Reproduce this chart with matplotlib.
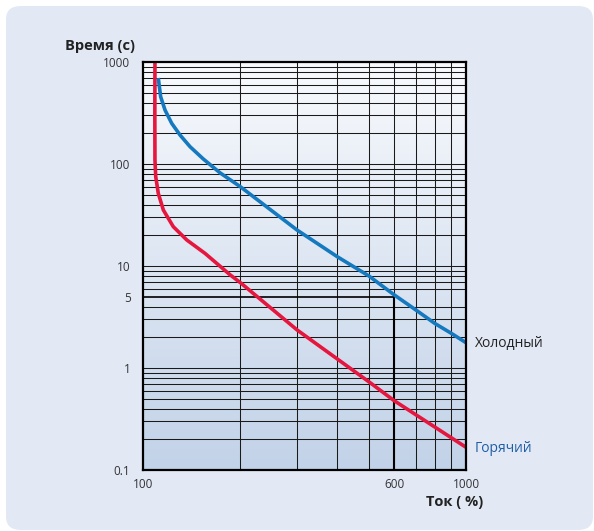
import matplotlib.pyplot as plt
import numpy as np
from matplotlib.patches import FancyBboxPatch
from matplotlib.colors import LinearSegmentedColormap

plt.rcParams['font.family'] = ['Open Sans', 'DejaVu Sans']

# Холодный (синяя кривая)
tok_holod = [111.5, 113.4, 117.0, 122.7, 130.2, 139.8, 153.7, 173.1, 200,
             300, 400, 500, 600, 700, 800, 900, 1000]
vremya_holod = [697, 457, 338, 250.6, 192.4, 147.9, 112, 82, 60,
                22.5, 12.3, 8.0, 5.2, 3.7, 2.74, 2.19, 1.77]

# Горячий (красная кривая)
tok_gor = [108.9, 108.8, 108.9, 109.5, 111.5, 115.6, 124.1, 136.6, 155.6, 186, 201,
           300, 500, 600, 1000]
vremya_gor = [1000, 300, 109.4, 75.1, 51.6, 35.4, 24.3, 18.0, 13.3, 8.2, 6.8,
              2.36, 0.734, 0.477, 0.167]

y_ticks = [0.1, 1, 5, 10, 100, 1000]
y_labels = ['0.1', '1', '5', '10', '100', '1000']
x_ticks = [100, 600, 1000]
x_labels = ['100', '600', '1000']

fig = plt.figure(figsize=(5.94, 5.31), dpi=100)
fig.patch.set_facecolor('white')

# фон-подложка со скруглёнными углами
panel = FancyBboxPatch((6 / 594, 1 - 530 / 531), 587 / 594, 524 / 531,
                       boxstyle='round,pad=0,rounding_size=0.025',
                       transform=fig.transFigure, facecolor='#e2e9f5',
                       edgecolor='none', zorder=-10)
fig.patches.append(panel)

ax = fig.add_axes([143 / 594, 1 - 470 / 531, 323 / 594, 408 / 531])
ax.set_zorder(1)
ax.set_xscale('log')
ax.set_yscale('log')

# градиент в области графика
grad = np.linspace(0, 1, 256).reshape(-1, 1)
cm = LinearSegmentedColormap.from_list('g', ['#c2d2e8', '#f8fafd'])
ax.imshow(grad, cmap=cm, aspect='auto', extent=[0, 1, 0, 1],
          transform=ax.transAxes, origin='lower', zorder=0)
ax.set_xlim(100, 1000)
ax.set_ylim(0.1, 1000)

# сетка
for d in range(-1, 3):
    for k in range(1, 10):
        v = k * 10 ** d
        if v <= 0.1 or v == 5:
            continue
        ax.axhline(v, color='#1a1a1a', lw=0.75, zorder=1)
for v in range(200, 1000, 100):
    ax.axvline(v, color='#1a1a1a', lw=0.75, zorder=1)

# опорные линии 600 % / 5 с
ax.plot([100, 600], [5, 5], color='black', lw=1.2, zorder=2)
ax.plot([600, 600], [0.1, 5], color='black', lw=1.5, zorder=2)

ax.plot(tok_holod, vremya_holod, color='#1479bf', lw=2.6, zorder=3,
        solid_capstyle='butt', solid_joinstyle='round')
ax.plot(tok_gor, vremya_gor, color='#e5173f', lw=2.6, zorder=3,
        solid_capstyle='butt', solid_joinstyle='round')

for s in ax.spines.values():
    s.set_linewidth(1.6)
    s.set_color('black')
    s.set_zorder(4)

ax.set_yticks(y_ticks)
ax.set_yticklabels(y_labels)
ax.set_xticks(x_ticks)
ax.set_xticklabels(x_labels)
ax.minorticks_off()
ax.tick_params(axis='both', length=0, labelsize=8.5, labelcolor='#333333')
ax.tick_params(axis='y', pad=9)
ax.tick_params(axis='x', pad=6)

fig.text(100 / 594, 1 - 46 / 531, 'Время (с)', fontsize=10.5, fontweight='bold',
         color='#222222', ha='center', va='center')
fig.text(455 / 594, 1 - 502 / 531, 'Ток ( %)', fontsize=10.5, fontweight='bold',
         color='#222222', ha='center', va='center')
fig.text(475 / 594, 1 - 343 / 531, 'Холодный', fontsize=10,
         color='#222222', ha='left', va='center')
fig.text(475 / 594, 1 - 448 / 531, 'Горячий', fontsize=10,
         color='#1f5ea6', ha='left', va='center')

fig.savefig('out.png', dpi=100)
